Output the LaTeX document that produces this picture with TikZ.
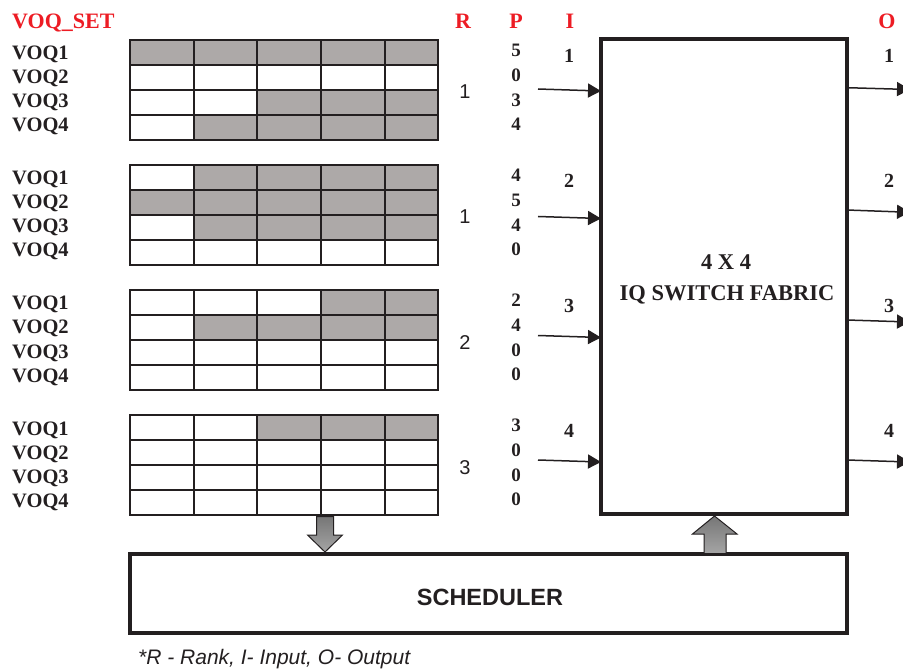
\documentclass[tikz,border=0pt]{standalone}
\usepackage{fontspec}
\setmainfont{Liberation Serif}
\setsansfont{Liberation Sans}
\usetikzlibrary{arrows.meta}
\definecolor{hdred}{RGB}{237,28,36}
\definecolor{cellgray}{RGB}{173,169,168}
\definecolor{ink}{RGB}{35,31,32}
\definecolor{bgtop}{RGB}{118,118,118}
\definecolor{bgbot}{RGB}{165,165,165}
\begin{document}
\begin{tikzpicture}[x=1pt,y=-1pt,
 hdr/.style={text=hdred,font=\fontsize{22}{22}\selectfont\bfseries,anchor=base,inner sep=0},
 voq/.style={text=ink,font=\fontsize{20.5}{20.5}\selectfont\bfseries,anchor=base west,inner sep=0},
 pnum/.style={text=ink,font=\fontsize{19}{19}\selectfont\bfseries,anchor=base,inner sep=0},
 rnum/.style={text=ink,font=\sffamily\fontsize{20}{20}\selectfont,anchor=base,inner sep=0},
 fabtxt/.style={text=ink,font=\fontsize{22.5}{22.5}\selectfont\bfseries,anchor=base,inner sep=0},
 gridline/.style={draw=ink,line width=2pt,line cap=rect},
 boxstyle/.style={draw=ink,line width=3.5pt,inner sep=0,line cap=rect},
 sig/.style={draw=ink,line width=1.5pt,-{Triangle[length=13pt,width=14pt]}},
 blockarrow/.style={top color=bgtop,bottom color=bgbot,draw=ink,line width=1pt,line join=miter},
]
\useasboundingbox (0,0) rectangle (903,671);
\clip (0,0) rectangle (903,671);

% header
\node[hdr,anchor=base west] (hset) at (12,29) {VOQ\_SET};
\node[hdr] (hR) at (463,29) {R};
\node[hdr] (hP) at (516,29) {P};
\node[hdr] (hI) at (570,29) {I};
\node[hdr] (hO) at (887,29) {O};

% fabric
\node[boxstyle,minimum width=246pt,minimum height=475pt] (fab) at (724,276.5) {};
\node[fabtxt] (fabl1) at (726,270) {4 X 4};
\node[fabtxt] (fabl2) at (727,300.5) {IQ SWITCH FABRIC};

% groups
\foreach \T/\R/\a/\b/\c/\d/\isy/\iey/\osy/\oey [count=\g] in
 {40/1/5/0/3/4/89/91/87.7/89.5,
  165/1/4/5/4/0/216.5/218.5/210/212.3,
  290/2/2/4/0/0/335.5/337.5/320/322,
  415/3/3/0/0/0/460/462/460/462}{
  % shaded cells
  \foreach \n [count=\r from 0] in {\a,\b,\c,\d}{
    \ifnum\n>0
      \pgfmathsetmacro{\xs}{{130,194,257,321,385,438}[5-\n]}
      \fill[cellgray] (\xs,\T+25*\r) rectangle (438,\T+25*\r+25);
    \fi
    \node[voq] (voq\g-\r) at (12,\T+20+24*\r) {VOQ\the\numexpr\r+1\relax};
    \node[pnum] (p\g-\r) at (516,\T+16.5+24.8*\r) {\n};
  }
  % grid lines
  \foreach \i in {0,...,4}{
    \draw[gridline] (130,\T+25*\i) -- (438,\T+25*\i);
  }
  \foreach \x in {130,194,257,321,385,438}{
    \draw[gridline] (\x,\T) -- (\x,\T+100);
  }
  % rank
  \node[rnum] (r\g) at (465,\T+59) {\R};
  % input / output labels
  \node[pnum,font=\fontsize{20}{20}\selectfont\bfseries] (in\g) at (569,\T+22.5) {\g};
  \node[pnum,font=\fontsize{20}{20}\selectfont\bfseries] (out\g) at (889,\T+22.5) {\g};
  % arrows
  \coordinate (is\g) at (538,\isy);
  \coordinate (ie\g) at (601,\iey);
  \coordinate (os\g) at (847,\osy);
  \coordinate (oe\g) at (910,\oey);
  \draw[sig] (is\g) -- (ie\g);
  \draw[sig] (os\g) -- (oe\g);
}

% scheduler
\node[boxstyle,minimum width=717pt,minimum height=79pt] (sched) at (488.5,593.5) {};
\node[text=ink,font=\sffamily\bfseries\fontsize{23.5}{23.5}\selectfont,anchor=base,inner sep=0] (schedl) at (490,605) {SCHEDULER};

% block arrows
\coordinate (dtip) at (325,552);
\draw[blockarrow] (dtip) -- ++(17.5,-17) -- ++(-9,0) -- ++(0,-18.5) -- ++(-17,0) -- ++(0,18.5) -- ++(-9,0) -- cycle;
\coordinate (utip) at (714.5,516);
\draw[blockarrow] (utip) -- ++(22.5,18) -- ++(-11,0) -- ++(0,19.5) -- ++(-22,0) -- ++(0,-19.5) -- ++(-11.5,0) -- cycle;

% footnote
\node[text=ink,font=\sffamily\itshape\fontsize{21}{21}\selectfont,anchor=base west,inner sep=0] (note) at (138,664) {*R - Rank, I- Input, O- Output};
\end{tikzpicture}
\end{document}
